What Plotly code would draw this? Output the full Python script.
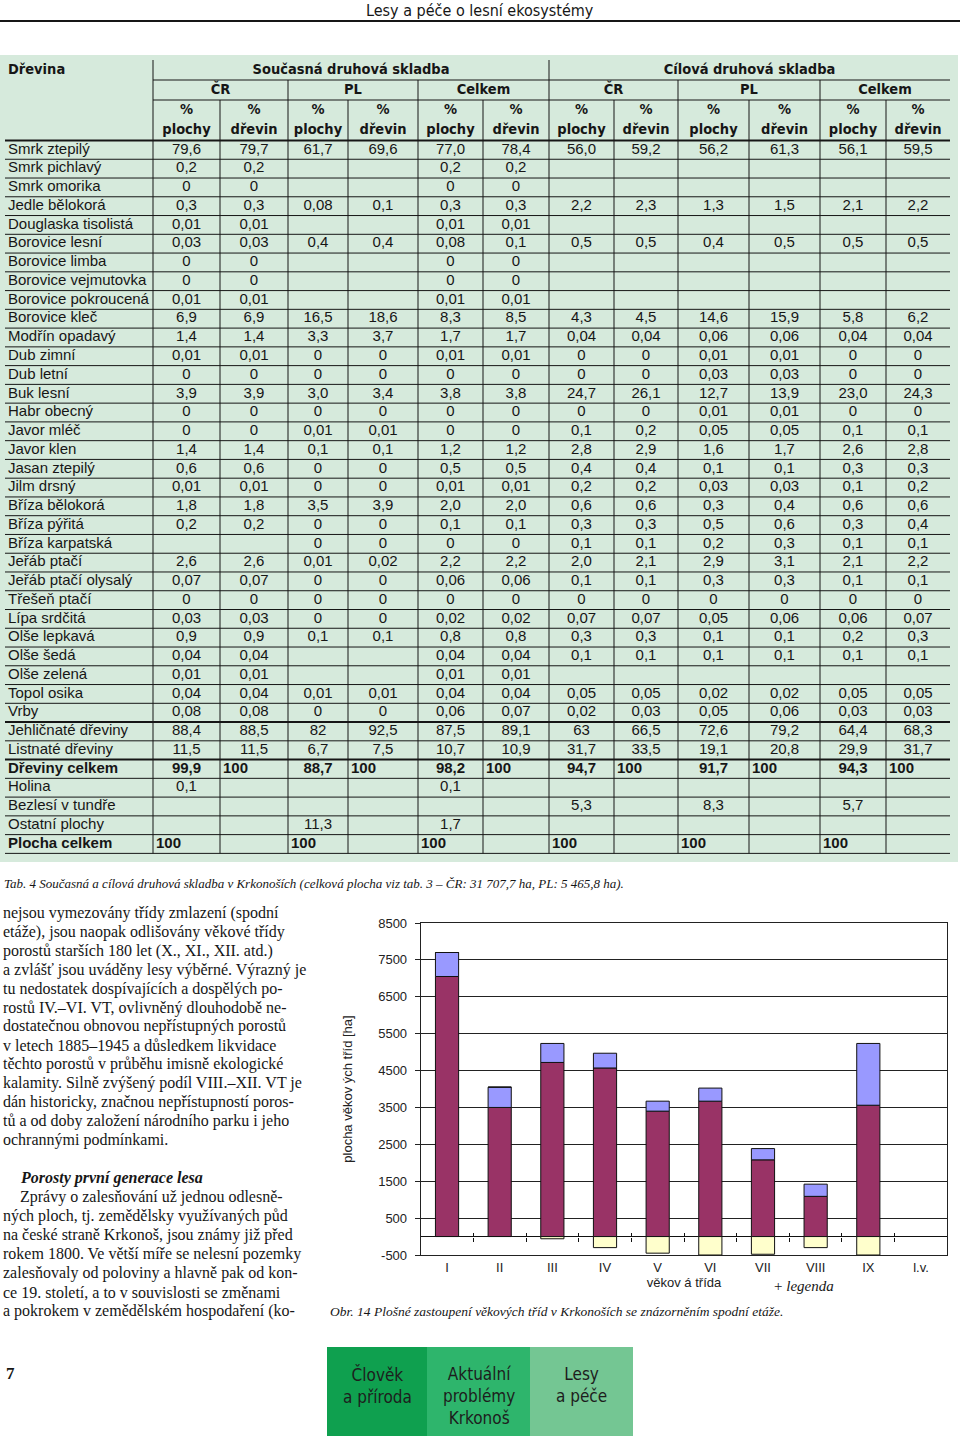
import plotly.graph_objects as go

W, H = 960, 1436

# ---------------------------------------------------------------------------
# Data
# ---------------------------------------------------------------------------
PAGE_TITLE = "Lesy a péče o lesní ekosystémy"

species = [
    "Smrk ztepilý", "Smrk pichlavý", "Smrk omorika", "Jedle bělokorá",
    "Douglaska tisolistá", "Borovice lesní", "Borovice limba",
    "Borovice vejmutovka", "Borovice pokroucená", "Borovice kleč",
    "Modřín opadavý", "Dub zimní", "Dub letní", "Buk lesní", "Habr obecný",
    "Javor mléč", "Javor klen", "Jasan ztepilý", "Jilm drsný",
    "Bříza bělokorá", "Bříza pýřitá", "Bříza karpatská", "Jeřáb ptačí",
    "Jeřáb ptačí olysalý", "Třešeň ptačí", "Lípa srdčitá", "Olše lepkavá",
    "Olše šedá", "Olše zelená", "Topol osika", "Vrby", "Jehličnaté dřeviny",
    "Listnaté dřeviny", "Dřeviny celkem", "Holina", "Bezlesí v tundře",
    "Ostatní plochy", "Plocha celkem",
]
bold_rows = ["Dřeviny celkem", "Plocha celkem"]

group_headers = ["Současná druhová skladba", "Cílová druhová skladba"]
region_headers = ["ČR", "PL", "Celkem"]
share_headers = ["plochy", "dřevin"]

# current composition (Současná)
cur_cr_area = ["79,6", "0,2", "0", "0,3", "0,01", "0,03", "0", "0", "0,01", "6,9", "1,4", "0,01", "0", "3,9", "0", "0", "1,4", "0,6", "0,01", "1,8", "0,2", "", "2,6", "0,07", "0", "0,03", "0,9", "0,04", "0,01", "0,04", "0,08", "88,4", "11,5", "99,9", "0,1", "", "", "100"]
cur_cr_trees = ["79,7", "0,2", "0", "0,3", "0,01", "0,03", "0", "0", "0,01", "6,9", "1,4", "0,01", "0", "3,9", "0", "0", "1,4", "0,6", "0,01", "1,8", "0,2", "", "2,6", "0,07", "0", "0,03", "0,9", "0,04", "0,01", "0,04", "0,08", "88,5", "11,5", "100", "", "", "", ""]
cur_pl_area = ["61,7", "", "", "0,08", "", "0,4", "", "", "", "16,5", "3,3", "0", "0", "3,0", "0", "0,01", "0,1", "0", "0", "3,5", "0", "0", "0,01", "0", "0", "0", "0,1", "", "", "0,01", "0", "82", "6,7", "88,7", "", "", "11,3", "100"]
cur_pl_trees = ["69,6", "", "", "0,1", "", "0,4", "", "", "", "18,6", "3,7", "0", "0", "3,4", "0", "0,01", "0,1", "0", "0", "3,9", "0", "0", "0,02", "0", "0", "0", "0,1", "", "", "0,01", "0", "92,5", "7,5", "100", "", "", "", ""]
cur_all_area = ["77,0", "0,2", "0", "0,3", "0,01", "0,08", "0", "0", "0,01", "8,3", "1,7", "0,01", "0", "3,8", "0", "0", "1,2", "0,5", "0,01", "2,0", "0,1", "0", "2,2", "0,06", "0", "0,02", "0,8", "0,04", "0,01", "0,04", "0,06", "87,5", "10,7", "98,2", "0,1", "", "1,7", "100"]
cur_all_trees = ["78,4", "0,2", "0", "0,3", "0,01", "0,1", "0", "0", "0,01", "8,5", "1,7", "0,01", "0", "3,8", "0", "0", "1,2", "0,5", "0,01", "2,0", "0,1", "0", "2,2", "0,06", "0", "0,02", "0,8", "0,04", "0,01", "0,04", "0,07", "89,1", "10,9", "100", "", "", "", ""]

# target composition (Cílová)
tgt_cr_area = ["56,0", "", "", "2,2", "", "0,5", "", "", "", "4,3", "0,04", "0", "0", "24,7", "0", "0,1", "2,8", "0,4", "0,2", "0,6", "0,3", "0,1", "2,0", "0,1", "0", "0,07", "0,3", "0,1", "", "0,05", "0,02", "63", "31,7", "94,7", "", "5,3", "", "100"]
tgt_cr_trees = ["59,2", "", "", "2,3", "", "0,5", "", "", "", "4,5", "0,04", "0", "0", "26,1", "0", "0,2", "2,9", "0,4", "0,2", "0,6", "0,3", "0,1", "2,1", "0,1", "0", "0,07", "0,3", "0,1", "", "0,05", "0,03", "66,5", "33,5", "100", "", "", "", ""]
tgt_pl_area = ["56,2", "", "", "1,3", "", "0,4", "", "", "", "14,6", "0,06", "0,01", "0,03", "12,7", "0,01", "0,05", "1,6", "0,1", "0,03", "0,3", "0,5", "0,2", "2,9", "0,3", "0", "0,05", "0,1", "0,1", "", "0,02", "0,05", "72,6", "19,1", "91,7", "", "8,3", "", "100"]
tgt_pl_trees = ["61,3", "", "", "1,5", "", "0,5", "", "", "", "15,9", "0,06", "0,01", "0,03", "13,9", "0,01", "0,05", "1,7", "0,1", "0,03", "0,4", "0,6", "0,3", "3,1", "0,3", "0", "0,06", "0,1", "0,1", "", "0,02", "0,06", "79,2", "20,8", "100", "", "", "", ""]
tgt_all_area = ["56,1", "", "", "2,1", "", "0,5", "", "", "", "5,8", "0,04", "0", "0", "23,0", "0", "0,1", "2,6", "0,3", "0,1", "0,6", "0,3", "0,1", "2,1", "0,1", "0", "0,06", "0,2", "0,1", "", "0,05", "0,03", "64,4", "29,9", "94,3", "", "5,7", "", "100"]
tgt_all_trees = ["59,5", "", "", "2,2", "", "0,5", "", "", "", "6,2", "0,04", "0", "0", "24,3", "0", "0,1", "2,8", "0,3", "0,2", "0,6", "0,4", "0,1", "2,2", "0,1", "0", "0,07", "0,3", "0,1", "", "0,05", "0,03", "68,3", "31,7", "100", "", "", "", ""]

TABLE_CAPTION = ("<i>Tab. 4 Současná a cílová druhová skladba v Krkonoších "
                 "(celková plocha viz tab. 3 – ČR: 31 707,7 ha, PL: 5 465,8 ha).</i>")

# age-class chart
age_classes = ["I", "II", "III", "IV", "V", "VI", "VII", "VIII", "IX", "l.v."]
main_layer = [7050, 3500, 4720, 4570, 3400, 3670, 2080, 1090, 3560, None]
upper_layer = [650, 550, 515, 400, 270, 355, 305, 330, 1675, None]
lower_layer = [0, 0, -60, -300, -450, -500, -480, -300, -500, None]
y_ticks = [-500, 500, 1500, 2500, 3500, 4500, 5500, 6500, 7500, 8500]

CHART_CAPTION = ("<i>Obr. 14 Plošné zastoupení věkových tříd v Krkonoších "
                 "se znázorněním spodní etáže.</i>")

text_par1 = [
    "nejsou vymezovány třídy zmlazení (spodní",
    "etáže), jsou naopak odlišovány věkové třídy",
    "porostů starších 180 let (X., XI., XII. atd.)",
    "a zvlášť jsou uváděny lesy výběrné. Výrazný je",
    "tu nedostatek dospívajících a dospělých po-",
    "rostů IV.–VI. VT, ovlivněný dlouhodobě ne-",
    "dostatečnou obnovou nepřístupných porostů",
    "v letech 1885–1945 a důsledkem likvidace",
    "těchto porostů v průběhu imisně ekologické",
    "kalamity. Silně zvýšený podíl VIII.–XII. VT je",
    "dán historicky, značnou nepřístupností poros-",
    "tů a od doby založení národního parku i jeho",
    "ochrannými podmínkami.",
]
text_heading = "Porosty první generace lesa"
text_par2 = [
    "Zprávy o zalesňování už jednou odlesně-",
    "ných ploch, tj. zemědělsky využívaných půd",
    "na české straně Krkonoš, jsou známy již před",
    "rokem 1800. Ve větší míře se nelesní pozemky",
    "zalesňovaly od poloviny a hlavně pak od kon-",
    "ce 19. století, a to v souvislosti se změnami",
    "a pokrokem v zemědělském hospodaření (ko-",
]

footer_labels = ["Člověk<br>a příroda", "Aktuální<br>problémy<br>Krkonoš", "Lesy<br>a péče"]
footer_colors = ["#0fa04f", "#2eb56c", "#74c693"]
PAGE_NUMBER = "7"

# ---------------------------------------------------------------------------
# Layout constants (page pixels)
# ---------------------------------------------------------------------------
SANS = "Liberation Sans, Arial, sans-serif"
NARROW = "Liberation Sans Narrow, DejaVu Sans Condensed, Arial Narrow, sans-serif"
SERIF = "Liberation Serif, Times New Roman, serif"
INK = "#161616"
TABLE_BG = "#d6eadc"

COL_EDGES = [153, 220, 288, 348, 418, 483, 549, 614, 678, 749, 820, 886, 950]
TABLE_TOP = 140.5
ROW_H = 18.76
TABLE_BOTTOM = TABLE_TOP + len(species) * ROW_H

CHART_L, CHART_R, CHART_T, CHART_B = 420.7, 947.3, 923, 1255
Y_MIN, Y_MAX = -500, 8500

value_columns = [cur_cr_area, cur_cr_trees, cur_pl_area, cur_pl_trees,
                 cur_all_area, cur_all_trees, tgt_cr_area, tgt_cr_trees,
                 tgt_pl_area, tgt_pl_trees, tgt_all_area, tgt_all_trees]

fig = go.Figure()

# ---------------------------------------------------------------------------
# Bar chart
# ---------------------------------------------------------------------------
for vals, colour in [(main_layer, "#993366"), (upper_layer, "#9999ff"),
                     (lower_layer, "#ffffcc")]:
    fig.add_trace(go.Bar(
        x=age_classes, y=vals, xaxis="x", yaxis="y",
        marker=dict(color=colour, line=dict(color="#111111", width=1)),
        showlegend=False, hoverinfo="skip",
    ))

# empty traces so the tick-only axes on the zero line get drawn
for ax in ["x3", "x4"]:
    fig.add_trace(go.Scatter(x=[], y=[], xaxis=ax, yaxis="y", showlegend=False))

# ---------------------------------------------------------------------------
# Table (page-pixel axes x2/y2)
# ---------------------------------------------------------------------------
def row_mid(i):
    return TABLE_TOP + (i + 0.5) * ROW_H


# species names
fig.add_trace(go.Scatter(
    x=[8] * len(species), y=[row_mid(i) for i in range(len(species))],
    text=[f"<b>{s}</b>" if s in bold_rows else s for s in species],
    mode="text", textposition="middle right",
    textfont=dict(family=SANS, size=15, color=INK),
    xaxis="x2", yaxis="y2", showlegend=False, hoverinfo="skip", cliponaxis=False,
))

# values
vx, vy, vt, vp = [], [], [], []
for j, col in enumerate(value_columns):
    left, right = COL_EDGES[j], COL_EDGES[j + 1]
    for i, v in enumerate(col):
        if not v:
            continue
        bold = species[i] in bold_rows
        if bold and v == "100":
            vx.append(left + 3)
            vp.append("middle right")
        else:
            vx.append((left + right) / 2)
            vp.append("middle center")
        vy.append(row_mid(i))
        vt.append(f"<b>{v}</b>" if bold else v)
fig.add_trace(go.Scatter(
    x=vx, y=vy, text=vt, mode="text", textposition=vp,
    textfont=dict(family=SANS, size=15, color=INK),
    xaxis="x2", yaxis="y2", showlegend=False, hoverinfo="skip", cliponaxis=False,
))

# header cells
hx, hy, ht = [8], [70], ["<b>Dřevina</b>"]
hp = ["middle right"]
for g, name in enumerate(group_headers):
    hx.append((COL_EDGES[6 * g] + COL_EDGES[6 * g + 6]) / 2)
    hy.append(70)
    ht.append(f"<b>{name}</b>")
    hp.append("middle center")
for k in range(6):
    hx.append((COL_EDGES[2 * k] + COL_EDGES[2 * k + 2]) / 2)
    hy.append(90)
    ht.append(f"<b>{region_headers[k % 3]}</b>")
    hp.append("middle center")
for j in range(12):
    cx = (COL_EDGES[j] + COL_EDGES[j + 1]) / 2
    hx += [cx, cx]
    hy += [110, 130]
    ht += ["<b>%</b>", f"<b>{share_headers[j % 2]}</b>"]
    hp += ["middle center", "middle center"]
fig.add_trace(go.Scatter(
    x=hx, y=hy, text=ht, mode="text", textposition=hp,
    textfont=dict(family=NARROW, size=14.5, color=INK),
    xaxis="x2", yaxis="y2", showlegend=False, hoverinfo="skip", cliponaxis=False,
))

shapes = []


def line(x0, y0, x1, y1, width=1, color=INK):
    shapes.append(dict(type="line", xref="x2", yref="y2", x0=x0, y0=y0,
                       x1=x1, y1=y1, line=dict(color=color, width=width)))


def rect(x0, y0, x1, y1, fill):
    shapes.append(dict(type="rect", xref="x2", yref="y2", x0=x0, y0=y0,
                       x1=x1, y1=y1, fillcolor=fill, line=dict(width=0),
                       layer="below"))


rect(0, 55, 958, 862, TABLE_BG)
line(0, 21, W, 21, width=2)

# header rules
line(COL_EDGES[0], 80, COL_EDGES[-1], 80)
line(COL_EDGES[0], 100, COL_EDGES[-1], 100)
line(5, TABLE_TOP, COL_EDGES[-1], TABLE_TOP, width=2)
# row rules
thick_after = ["Vrby", "Listnaté dřeviny"]
for i, s in enumerate(species):
    y = TABLE_TOP + (i + 1) * ROW_H
    line(5, y, COL_EDGES[-1], y, width=2 if s in thick_after else 1)
# column rules
for j, x in enumerate(COL_EDGES[:-1]):
    if j % 6 == 0:
        top = 60
    elif j % 2 == 0:
        top = 80
    else:
        top = 100
    line(x, top, x, TABLE_BOTTOM)

# footer boxes
box_w = [100, 103, 103]
bx = 327
annotations = []
for label, colour, w in zip(footer_labels, footer_colors, box_w):
    rect(bx, 1347, bx + w, H, colour)
    annotations.append(dict(
        x=bx + w / 2, y=1362, xref="x2", yref="y2", text=label, showarrow=False,
        xanchor="center", yanchor="top", align="center",
        font=dict(family=NARROW, size=17, color="#1d1d1d"),
    ))
    bx += w


def note(x, y, text, family=SERIF, size=16, xanchor="left", color=INK):
    annotations.append(dict(
        x=x, y=y, xref="x2", yref="y2", text=text, showarrow=False,
        xanchor=xanchor, yanchor="middle", font=dict(family=family, size=size, color=color),
    ))


note(480, 10, PAGE_TITLE, family=NARROW, size=16, xanchor="center")
note(2, 883, TABLE_CAPTION, size=13)
for i, t in enumerate(text_par1):
    note(1, 913 + i * 18.9, t)
note(18, 1178, f"<b><i>{text_heading}</i></b>", size=16)
for i, t in enumerate(text_par2):
    note(18 if i == 0 else 1, 1197 + i * 19, t)
note(328, 1311, CHART_CAPTION, size=13.5)
note(772, 1286, "+ <i>legenda</i>", size=15)
note(4, 1373, f"<b>{PAGE_NUMBER}</b>", size=17)

# ---------------------------------------------------------------------------
# Layout
# ---------------------------------------------------------------------------
xd = [CHART_L / W, CHART_R / W]
yd = [(H - CHART_B) / H, (H - CHART_T) / H]
zero_pos = yd[0] + (0 - Y_MIN) / (Y_MAX - Y_MIN) * (yd[1] - yd[0])
tick_axis = dict(overlaying="x", anchor="free", position=zero_pos,
                 range=[-0.5, len(age_classes) - 0.5],
                 tickvals=[i + 0.5 for i in range(len(age_classes) - 1)],
                 showticklabels=False, ticks="outside", ticklen=4,
                 tickcolor="#111111", showgrid=False, zeroline=False,
                 showline=False, automargin=False)

fig.update_layout(
    width=W, height=H, autosize=False,
    margin=dict(l=0, r=0, t=0, b=0, pad=0, autoexpand=False),
    paper_bgcolor="white", plot_bgcolor="rgba(0,0,0,0)",
    barmode="relative", bargap=0.56,
    xaxis=dict(domain=xd, anchor="y", type="category", showgrid=False,
               ticks="", showline=True, linecolor="#222222", mirror=True,
               automargin=False,
               tickfont=dict(family=SANS, size=13, color="#222222"),
               title=dict(text="věkov á třída", standoff=2,
                          font=dict(family=SANS, size=13, color="#222222"))),
    yaxis=dict(domain=yd, anchor="x", range=[Y_MIN, Y_MAX],
               tickvals=y_ticks, ticktext=[str(v) for v in y_ticks],
               showgrid=True, gridcolor="#222222", gridwidth=1,
               zeroline=True, zerolinecolor="#111111", zerolinewidth=1,
               showline=True, linecolor="#222222", mirror=True,
               ticks="outside", ticklen=5, tickcolor="#222222",
               ticklabelstandoff=5, automargin=False,
               tickfont=dict(family=SANS, size=13, color="#222222"),
               title=dict(text="plocha věkov ých tříd [ha]", standoff=22,
                          font=dict(family=SANS, size=13, color="#222222"))),
    xaxis3=dict(tick_axis, side="bottom"),
    xaxis4=dict(tick_axis, side="top"),
    xaxis2=dict(domain=[0, 1], anchor="y2", range=[0, W], visible=False,
                automargin=False),
    yaxis2=dict(domain=[0, 1], anchor="x2", range=[H, 0], visible=False,
                automargin=False),
    shapes=shapes,
    annotations=annotations,
)

# the page has a default 8px body margin; drop it so the figure sits at 0,0
fig.write_html(
    "out.html",
    config={"displayModeBar": False},
    post_script="document.body.style.margin='0';",
)
